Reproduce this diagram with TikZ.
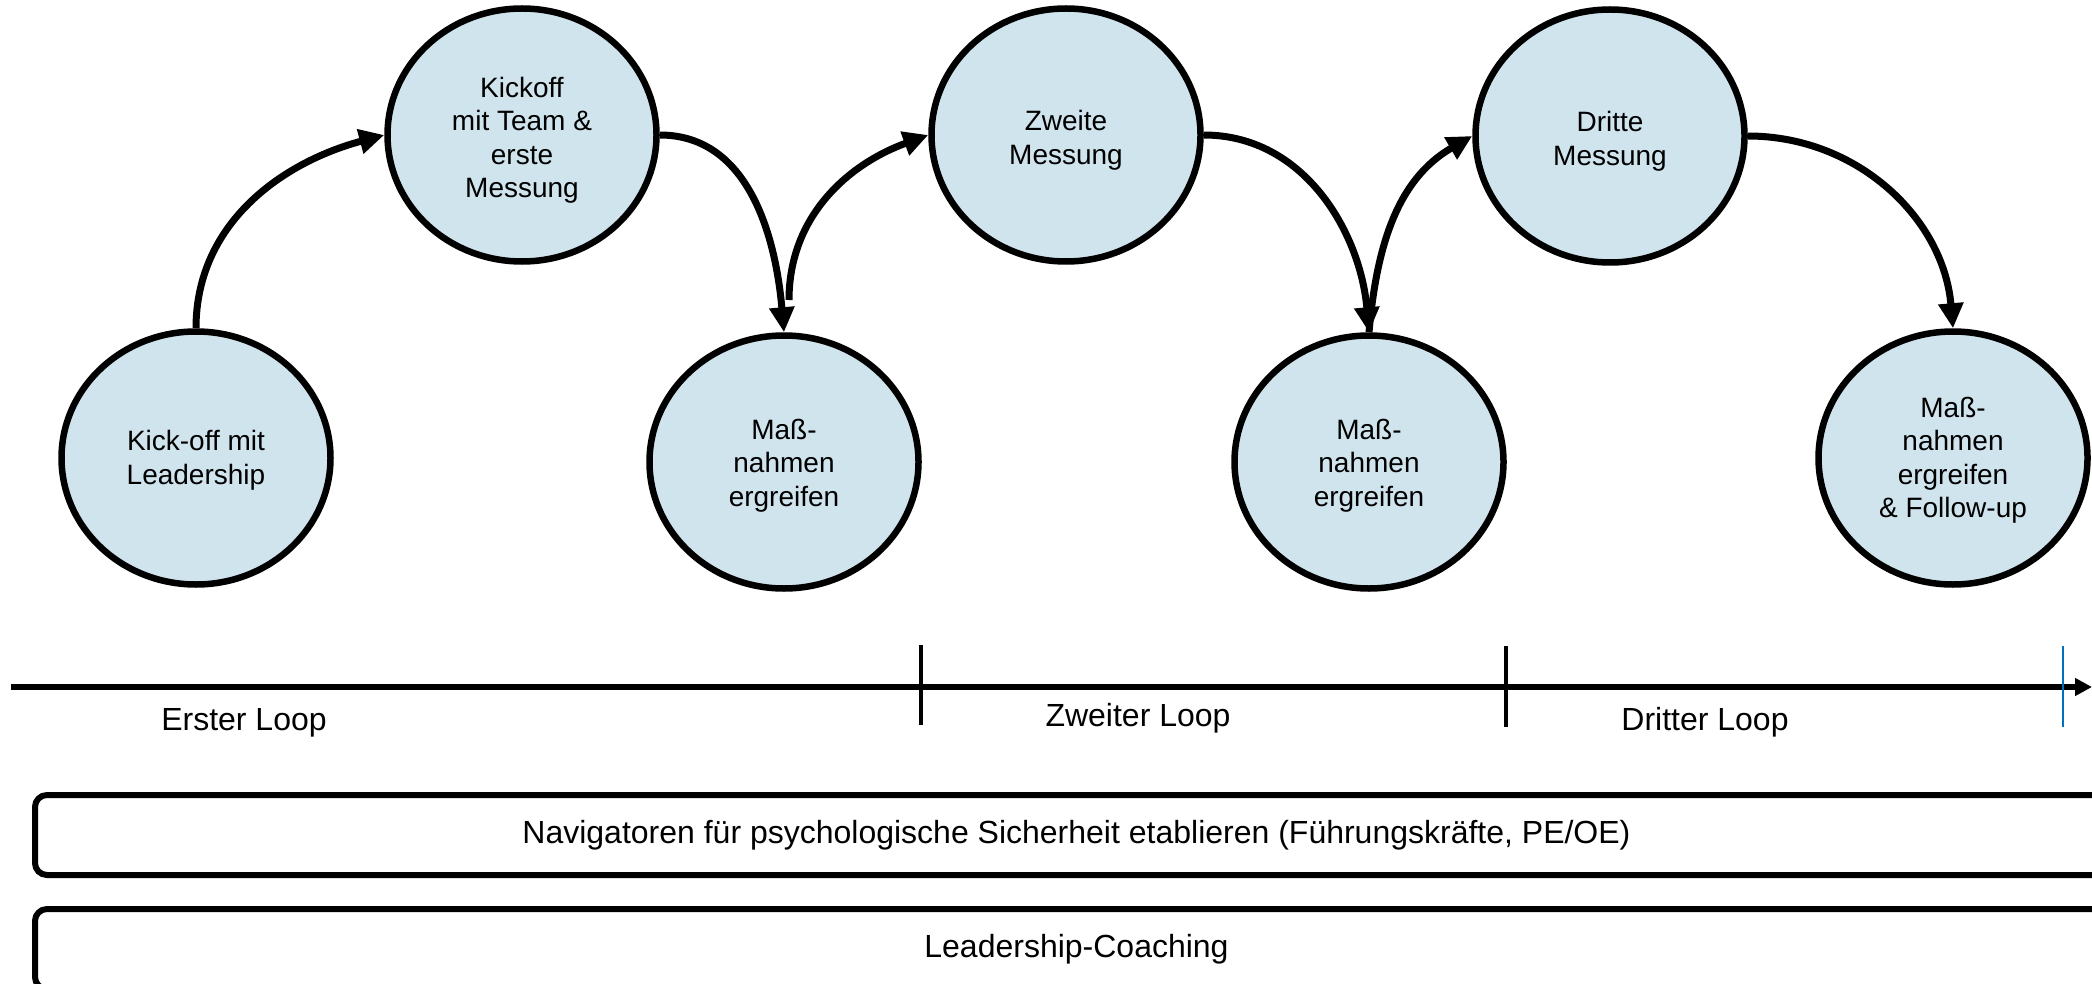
\documentclass[tikz,border=0pt]{standalone}
\usepackage{fontspec}
\setmainfont{Liberation Sans}
\usetikzlibrary{arrows.meta,shapes.geometric}
\definecolor{circfill}{RGB}{208,228,238}
\definecolor{tickblue}{RGB}{0,112,192}
\newcommand{\stagetext}[2]{\raisebox{-#1}[\height][\depth]{\begin{tabular}{@{}c@{}}#2\end{tabular}}}
\tikzset{
  stage/.style={ellipse, draw=black, line width=6.5pt, fill=circfill,
    minimum width=269pt, minimum height=253pt, inner sep=0pt, align=center,
    font=\fontsize{28}{33.4}\selectfont},
  flow/.style={line width=7pt, -{Triangle[length=25pt,width=24pt]}},
  axisline/.style={line width=5.5pt, -{Triangle[length=17pt,width=17pt]}},
  tickmark/.style={line width=4.5pt},
  looplabel/.style={font=\fontsize{32}{38}\selectfont, inner sep=0pt},
  band/.style={draw=black, line width=6pt, rounded corners=12pt, anchor=north west,
    minimum width=2083pt, minimum height=80pt, inner sep=0pt,
    font=\fontsize{32}{38}\selectfont}
}
\begin{document}
\begin{tikzpicture}[x=1pt,y=-1pt]
\useasboundingbox (0,0) rectangle (2092,984);
\clip (0,0) rectangle (2092,984);
% stages
\node[stage] (a) at (196,458) {\stagetext{3pt}{Kick-off mit\\Leadership}};
\node[stage] (b) at (522,135) {\stagetext{6pt}{Kickoff\\mit Team \&\\erste\\Messung}};
\node[stage] (c) at (784,462) {\stagetext{4pt}{Maß-\\nahmen\\ergreifen}};
\node[stage] (d) at (1066,135) {\stagetext{6pt}{Zweite\\Messung}};
\node[stage] (e) at (1369,462) {\stagetext{4pt}{Maß-\\nahmen\\ergreifen}};
\node[stage] (f) at (1610,136) {\stagetext{6pt}{Dritte\\Messung}};
\node[stage] (g) at (1953,458) {\stagetext{3pt}{Maß-\\nahmen\\ergreifen\\\& Follow-up}};
% connectors
\coordinate (c3) at (789,300);
\draw[flow] (a.north) to[out=90,in=195] (b.west);
\draw[flow] (b.east) to[out=0,in=95] (c.north);
\draw[flow] (c3) to[out=90,in=200] (d.west);
\draw[flow] (d.east) to[out=0,in=95] (e.north);
\draw[flow] (e.north) to[out=85,in=210] (f.west);
\draw[flow] (f.east) to[out=0,in=95] (g.north);
% timeline
\coordinate (tstart) at (11,687);
\coordinate (tend) at (2092,687);
\draw[axisline] (tstart) -- (tend);
\coordinate (t1a) at (921,645); \coordinate (t1b) at (921,725);
\coordinate (t2a) at (1506,646); \coordinate (t2b) at (1506,727);
\coordinate (t3a) at (2063,646); \coordinate (t3b) at (2063,727);
\draw[tickmark] (t1a) -- (t1b);
\draw[tickmark] (t2a) -- (t2b);
\draw[line width=1.5pt, tickblue] (t3a) -- (t3b);
\node[looplabel] (l1) at (244,723) {Erster Loop};
\node[looplabel] (l2) at (1138,718) {Zweiter Loop};
\node[looplabel] (l3) at (1705,722) {Dritter Loop};
% bands
\node[band] (nav) at (32,792) {Navigatoren für psychologische Sicherheit etablieren (Führungskräfte, PE/OE)};
\node[band] (coach) at (32,906) {Leadership-Coaching};
\end{tikzpicture}
\end{document}
